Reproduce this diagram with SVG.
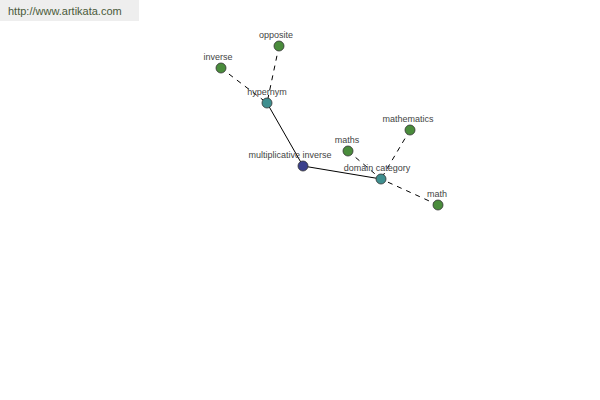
<svg xmlns="http://www.w3.org/2000/svg" width="600" height="400" viewBox="0 0 600 400">
<style>
.lbl{font-family:"Liberation Sans",Arial,sans-serif;font-size:9px;fill:#444;text-anchor:middle}
.n{stroke:#333;stroke-width:0.8}
.g{fill:#4a8c3c}.t{fill:#3f8f8f}.b{fill:#3a3f8c}
.e{stroke:#000;stroke-width:1;fill:none}
.d{stroke-dasharray:5,5}
</style>
<rect x="0" y="0" width="139" height="21" fill="#eeeeee"/>
<text x="8" y="15" font-family="Liberation Sans,Arial,sans-serif" font-size="11" fill="#4a5a3a">http://www.artikata.com</text>
<g id="connectors">
<line class="e d" x1="279" y1="46" x2="267" y2="103"/>
<line class="e d" x1="221" y1="68" x2="267" y2="103"/>
<line class="e" x1="267" y1="103" x2="303" y2="166"/>
<line class="e" x1="303" y1="166" x2="381" y2="179"/>
<line class="e d" x1="348" y1="151" x2="381" y2="179"/>
<line class="e d" x1="410" y1="130" x2="381" y2="179"/>
<line class="e d" x1="438" y1="205" x2="381" y2="179"/>
</g>
<g id="opposite"><circle class="n g" cx="279" cy="46" r="5"/><text class="lbl" x="276" y="38">opposite</text></g>
<g id="inverse"><circle class="n g" cx="221" cy="68" r="5"/><text class="lbl" x="218" y="60">inverse</text></g>
<g id="hypernym"><circle class="n t" cx="267" cy="103" r="5"/><text class="lbl" x="267" y="95">hypernym</text></g>
<g id="multiplicative-inverse"><circle class="n b" cx="303" cy="166" r="5"/><text class="lbl" x="290" y="158">multiplicative inverse</text></g>
<g id="maths"><circle class="n g" cx="348" cy="151" r="5"/><text class="lbl" x="347" y="143">maths</text></g>
<g id="mathematics"><circle class="n g" cx="410" cy="130" r="5"/><text class="lbl" x="408" y="122">mathematics</text></g>
<g id="domain-category"><circle class="n t" cx="381" cy="179" r="5"/><text class="lbl" x="377" y="171">domain category</text></g>
<g id="math"><circle class="n g" cx="438" cy="205" r="5"/><text class="lbl" x="437" y="197">math</text></g>
</svg>
